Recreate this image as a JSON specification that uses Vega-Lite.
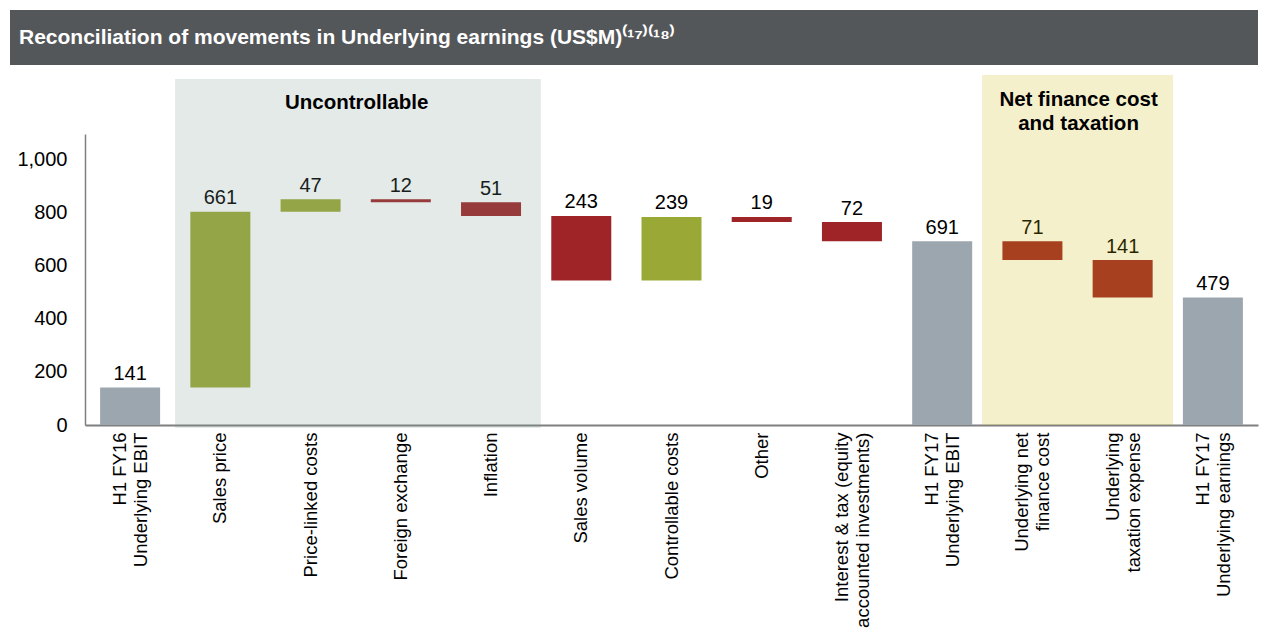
{
  "$schema": "https://vega.github.io/schema/vega-lite/v6.json",
  "background": "white",
  "padding": {"left": 10, "top": 10, "right": 5, "bottom": 0},
  "config": {"view": {"stroke": null}, "font": "Liberation Sans", "concat": {"spacing": 9}},
  "vconcat": [
    {
      "width": 1173,
      "height": 55,
      "view": {"fill": "#54575a", "stroke": null},
      "data": {"values": [{"title": "Reconciliation of movements in Underlying earnings (US$M)⁽¹⁷⁾⁽¹⁸⁾"}]},
      "mark": {"type": "text", "align": "left", "baseline": "middle", "dx": -66, "fontSize": 21, "fontWeight": "bold", "color": "white"},
      "encoding": {
        "text": {"field": "title"},
        "x": {"datum": 0, "type": "quantitative", "scale": {"domain": [0, 1]}, "axis": null},
        "y": {"datum": 0.5, "type": "quantitative", "scale": {"domain": [0, 1]},
          "axis": {"title": null, "labels": false, "ticks": false, "grid": false, "domain": true, "domainColor": "#54575a", "domainWidth": 150, "domainCap": "butt", "translate": 0, "minExtent": 75, "maxExtent": 75, "zindex": 0}}
      }
    },
    {
      "width": 1173,
      "height": 291,
      "layer": [
        {
          "data": {"name": "bars", "values": [
            {"cat": "H1 FY16\nUnderlying EBIT", "start": 0, "end": 141, "type": "total", "value": 141},
            {"cat": "Sales price", "start": 141, "end": 802, "type": "up", "value": 661},
            {"cat": "Price-linked costs", "start": 802, "end": 849, "type": "up", "value": 47},
            {"cat": "Foreign exchange", "start": 849, "end": 837, "type": "down", "value": 12},
            {"cat": "Inflation", "start": 837, "end": 786, "type": "down", "value": 51},
            {"cat": "Sales volume", "start": 786, "end": 543, "type": "down", "value": 243},
            {"cat": "Controllable costs", "start": 543, "end": 782, "type": "up", "value": 239},
            {"cat": "Other", "start": 782, "end": 763, "type": "down", "value": 19},
            {"cat": "Interest & tax (equity\naccounted investments)", "start": 763, "end": 691, "type": "down", "value": 72},
            {"cat": "H1 FY17\nUnderlying EBIT", "start": 0, "end": 691, "type": "total", "value": 691},
            {"cat": "Underlying net\nfinance cost", "start": 691, "end": 620, "type": "down", "value": 71},
            {"cat": "Underlying\ntaxation expense", "start": 620, "end": 479, "type": "down", "value": 141},
            {"cat": "H1 FY17\nUnderlying earnings", "start": 0, "end": 479, "type": "total", "value": 479}
          ]},
          "layer": [
            {
              "mark": {"type": "bar"},
              "encoding": {
                "x": {"field": "cat", "type": "nominal", "sort": null,
                  "scale": {"domain": ["H1 FY16\nUnderlying EBIT", "Sales price", "Price-linked costs", "Foreign exchange", "Inflation", "Sales volume", "Controllable costs", "Other", "Interest & tax (equity\naccounted investments)", "H1 FY17\nUnderlying EBIT", "Underlying net\nfinance cost", "Underlying\ntaxation expense", "H1 FY17\nUnderlying earnings"], "paddingInner": 0.335, "paddingOuter": 0.1675},
                  "axis": {"title": null, "labelAngle": -90, "labelFontSize": 18.5, "labelColor": "#000000", "labelPadding": 7, "ticks": false, "domainColor": "#7f7f7f", "domainWidth": 2, "labelLimit": 400, "labelLineHeight": 21,
                    "labelOffset": {"condition": {"test": "indexof(datum.value, '\\n') >= 0", "value": -10}, "value": 0},
                    "labelExpr": "split(datum.label, '\\n')"}},
                "y": {"field": "start", "type": "quantitative",
                  "scale": {"domain": [0, 1094], "nice": false, "zero": false},
                  "axis": {"title": null, "values": [0, 200, 400, 600, 800, 1000], "format": ",d", "labelFontSize": 20, "labelColor": "#000000", "ticks": false, "grid": false, "labelPadding": 18, "domainColor": "#7f7f7f", "domainWidth": 1.5, "minExtent": 75, "maxExtent": 75}},
                "y2": {"field": "end"},
                "color": {"field": "type", "type": "nominal", "legend": null,
                  "scale": {"domain": ["total", "up", "down"], "range": ["#9ba6ae", "#9aa935", "#9e2427"]}}
              }
            },
            {
              "transform": [{"calculate": "max(datum.start, datum.end)", "as": "top"}],
              "mark": {"type": "text", "fontSize": 20, "baseline": "alphabetic", "dy": -7.5, "color": "#000000"},
              "encoding": {
                "x": {"field": "cat", "type": "nominal", "sort": null},
                "y": {"field": "top", "type": "quantitative"},
                "text": {"field": "value"}
              }
            }
          ]
        },
        {
          "data": {"values": [{"name": "Uncontrollable", "from": "Sales price", "to": "Inflation", "bottom": -11, "top": 1301}]},
          "mark": {"type": "rect", "color": "#78968c", "opacity": 0.2},
          "encoding": {
            "x": {"field": "from", "type": "nominal", "bandPosition": -0.255},
            "x2": {"field": "to", "bandPosition": 1.33},
            "y": {"field": "bottom", "type": "quantitative"},
            "y2": {"field": "top"}
          }
        },
        {
          "data": {"values": [{"name": "Net finance cost\nand taxation", "from": "Underlying net\nfinance cost", "to": "Underlying\ntaxation expense", "bottom": 0, "top": 1316}]},
          "mark": {"type": "rect", "color": "#cdb400", "opacity": 0.2},
          "encoding": {
            "x": {"field": "from", "type": "nominal", "bandPosition": -0.34},
            "x2": {"field": "to", "bandPosition": 1.34},
            "y": {"field": "bottom", "type": "quantitative"},
            "y2": {"field": "top"}
          }
        },
        {
          "data": {"values": [
            {"name": "Uncontrollable", "anchor": "Foreign exchange", "ty": 1211},
            {"name": "Net finance cost\nand taxation", "anchor": "Underlying\ntaxation expense", "ty": 1222}
          ]},
          "mark": {"type": "text", "fontSize": 20.5, "fontWeight": "bold", "color": "#000000", "baseline": "middle", "lineBreak": "\n", "lineHeight": 24},
          "encoding": {
            "x": {"field": "anchor", "type": "nominal", "bandPosition": -0.235},
            "y": {"field": "ty", "type": "quantitative"},
            "text": {"field": "name"}
          }
        }
      ]
    }
  ]
}
